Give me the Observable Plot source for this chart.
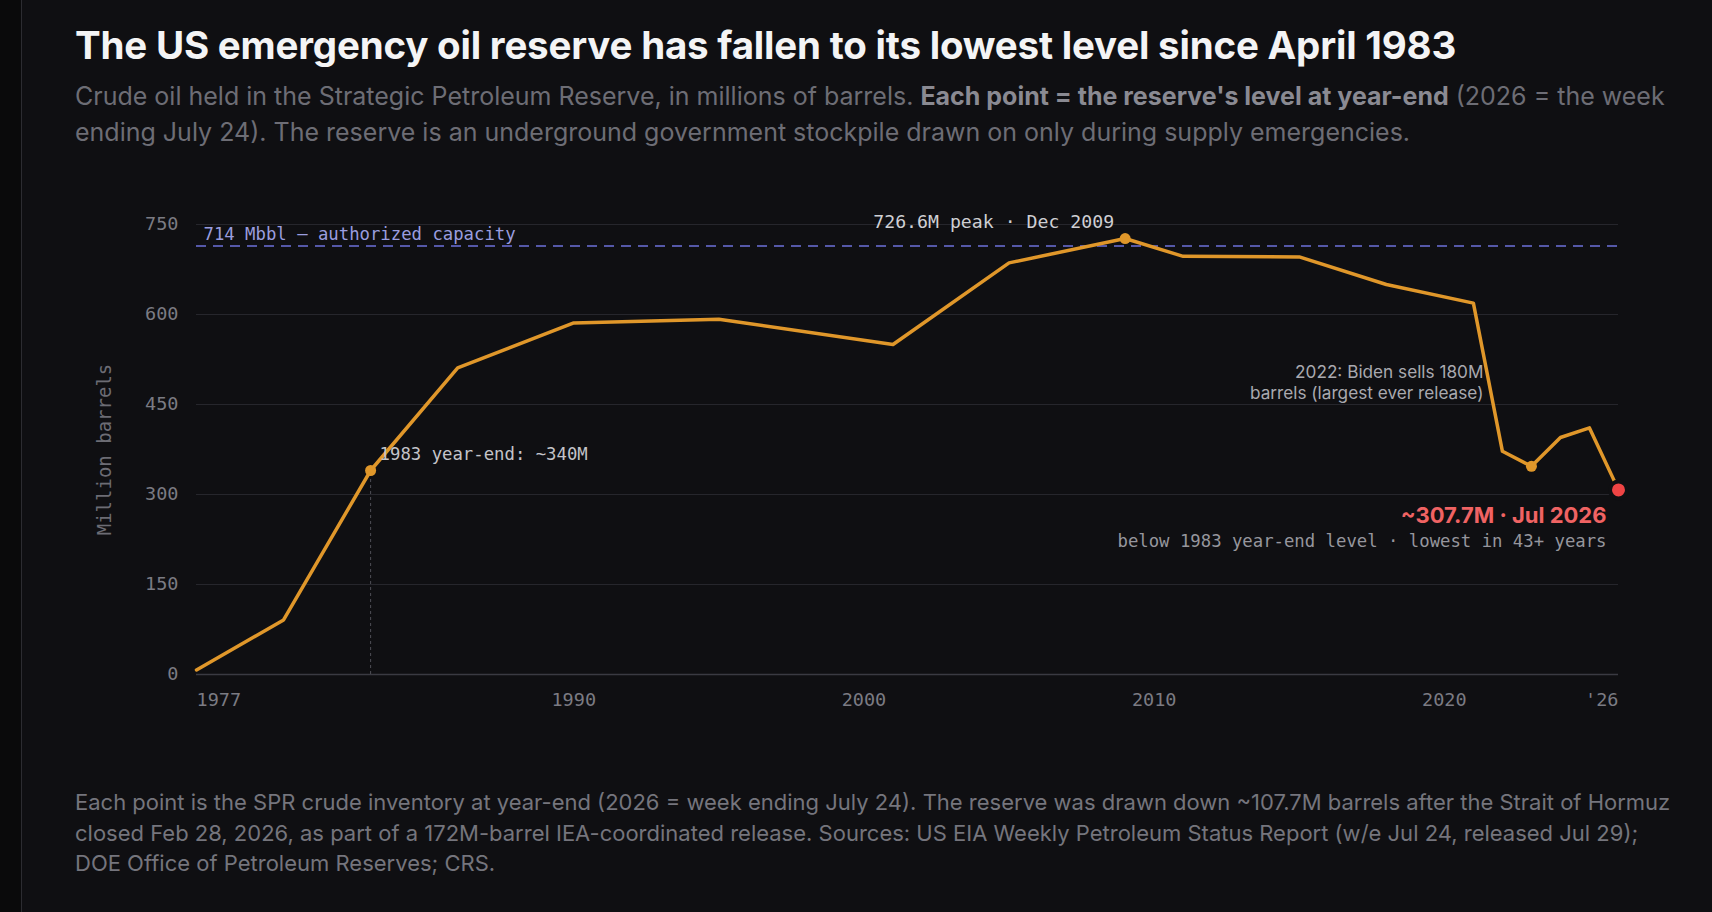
<!DOCTYPE html>
<html>
<head>
<meta charset="utf-8">
<script src="https://cdn.jsdelivr.net/npm/d3@7"></script>
<script src="https://cdn.jsdelivr.net/npm/@observablehq/plot@0.6"></script>
<style>
  html, body { margin: 0; padding: 0; background: #0a0a0b; }
  body { width: 1712px; height: 912px; overflow: hidden; }
  #page {
    position: absolute; left: 21px; top: 0; width: 1691px; height: 912px;
    background: #0f0f12; border-left: 1px solid #2c2c31; box-sizing: border-box;
    padding-left: 53px;
  }
  h1 {
    font-family: Inter, "Noto Sans", sans-serif; font-weight: 700; font-size: 38.5px;
    color: #f4f4f5; margin: 0; padding-top: 21.5px; line-height: 46px; letter-spacing: -0.2px;
    white-space: nowrap;
  }
  .sub {
    font-family: Inter, "Noto Sans", sans-serif; font-size: 25px; color: #6d6d75;
    margin: 10px 0 0 0; line-height: 36.7px; width: 1610px;
  }
  .sub b { color: #8a8a92; font-weight: 700; }
  #chart { position: absolute; left: 53px; top: 170px; }
  .foot {
    position: absolute; left: 53px; top: 787px; width: 1610px;
    font-family: Inter, "Noto Sans", sans-serif; font-size: 22px; color: #75757d; line-height: 30.5px;
  }
</style>
</head>
<body>
<div id="page">
  <h1>The US emergency oil reserve has fallen to its lowest level since April 1983</h1>
  <div class="sub">Crude oil held in the Strategic Petroleum Reserve, in millions of barrels. <b>Each point = the reserve's level at year-end</b> (2026 = the week ending July 24). The reserve is an underground government stockpile drawn on only during supply emergencies.</div>
  <div id="chart"></div>
  <div class="foot">Each point is the SPR crude inventory at year-end (2026 = week ending July 24). The reserve was drawn down ~107.7M barrels after the Strait of Hormuz closed Feb 28, 2026, as part of a 172M-barrel IEA-coordinated release. Sources: US EIA Weekly Petroleum Status Report (w/e Jul 24, released Jul 29); DOE Office of Petroleum Reserves; CRS.</div>
</div>
<script>
// ---- data ----
const years  = [1977, 1980, 1983, 1986, 1990, 1995, 2001, 2005, 2009, 2011, 2015, 2018, 2021, 2022, 2023, 2024, 2025, 2026];
const levels = [7.5, 91, 340, 511, 586, 592, 550, 686, 726.6, 697, 696, 650, 619, 372, 347, 395, 411, 307.7];
const highlightYears = [1983, 2009, 2023];
const latestYear = 2026;
const latestLevel = 307.7;
const capacity = 714;
const yTicks = [0, 150, 300, 450, 600, 750];
const xTicks = [1977, 1990, 2000, 2010, 2020, 2026];
const capacityLabel = "714 Mbbl — authorized capacity";
const peakLabel = "726.6M peak · Dec 2009";
const label1983 = "1983 year-end: ~340M";
const label2022 = "2022: Biden sells 180M\nbarrels (largest ever release)";
const latestLabel = "~307.7M · Jul 2026";
const latestNote = "below 1983 year-end level · lowest in 43+ years";
const yLabel = "Million barrels";

const series = years.map((y, i) => ({year: y, value: levels[i]}));
const highlights = series.filter(d => highlightYears.includes(d.year));
const pt = yr => series.find(d => d.year === yr);
const latest = [{year: latestYear, value: latestLevel}];

const mono = "'DejaVu Sans Mono', monospace";
const sans = "Inter, 'Noto Sans', sans-serif";
const fmtX = d => d === 2026 ? "'26" : String(d);
const tickFill = "#7b7b83";

const chart = Plot.plot({
  width: 1600,
  height: 560,
  marginLeft: 121,
  marginRight: 57,
  marginTop: 54,
  marginBottom: 56,
  style: {background: "transparent", color: tickFill, fontFamily: mono, fontSize: "18.5px"},
  x: {domain: [1977, 2026]},
  y: {domain: [0, 750]},
  marks: [
    Plot.gridY(yTicks.filter(d => d > 0), {stroke: "#26262c", strokeOpacity: 1, strokeWidth: 1.2}),
    Plot.ruleY([0], {stroke: "#3a3a42", strokeWidth: 1.5}),
    Plot.axisY(yTicks, {tickSize: 0, tickPadding: 18, fill: tickFill, label: null, tickFormat: d => String(d)}),
    Plot.axisX(xTicks.slice(1, -1), {tickSize: 0, tickPadding: 18, fill: tickFill, label: null, tickFormat: fmtX}),
    Plot.axisX(xTicks.slice(0, 1), {tickSize: 0, tickPadding: 18, fill: tickFill, label: null, textAnchor: "start", tickFormat: fmtX}),
    Plot.axisX(xTicks.slice(-1), {tickSize: 0, tickPadding: 18, fill: tickFill, label: null, textAnchor: "end", tickFormat: fmtX}),
    Plot.text([yLabel], {frameAnchor: "left", text: d => d, rotate: -90, textAnchor: "middle", dx: -92, fill: "#6c6c74", fontFamily: mono, fontSize: 19}),
    Plot.ruleY([capacity], {stroke: "#5558a8", strokeWidth: 2, strokeDasharray: "10,7"}),
    Plot.text([capacityLabel], {y: () => capacity, frameAnchor: "left", text: d => d, textAnchor: "start", dx: 7, dy: -12, fill: "#9a9ddf", fontFamily: mono, fontSize: 17.3}),
    Plot.ruleX([pt(1983)], {x: "year", y1: 0, y2: "value", stroke: "#4f4f56", strokeWidth: 1, strokeDasharray: "3,3"}),
    Plot.line(series, {x: "year", y: "value", stroke: "#e0972a", strokeWidth: 3.5, strokeLinejoin: "round", strokeLinecap: "round"}),
    Plot.dot(highlights, {x: "year", y: "value", r: 5.5, fill: "#e0972a"}),
    Plot.dot(latest, {x: "year", y: "value", r: 8.5, fill: "#ef4444", stroke: "#0f0f12", strokeWidth: 4}),
    Plot.text([pt(2009)], {x: "year", y: "value", text: () => peakLabel, textAnchor: "end", dx: -11, dy: -16, fill: "#cfcfd4", fontFamily: mono, fontSize: 18.2}),
    Plot.text([pt(1983)], {x: "year", y: "value", text: () => label1983, textAnchor: "start", dx: 9, dy: -16, fill: "#c4c4c9", fontFamily: mono, fontSize: 17.3}),
    Plot.text([pt(2022)], {x: "year", y: "value", text: () => label2022, textAnchor: "end", lineAnchor: "middle", lineHeight: 1.22, dx: -19, dy: -70, fill: "#a9a9af", fontFamily: sans, fontSize: 17.2}),
    Plot.text(latest, {x: "year", y: "value", text: () => latestLabel, textAnchor: "end", dx: -12, dy: 26, fill: "#f06363", fontFamily: sans, fontWeight: 700, fontSize: 22}),
    Plot.text(latest, {x: "year", y: "value", text: () => latestNote, textAnchor: "end", dx: -12, dy: 52, fill: "#96969d", fontFamily: mono, fontSize: 17.3})
  ]
});
document.getElementById("chart").appendChild(chart);
</script>
</body>
</html>
